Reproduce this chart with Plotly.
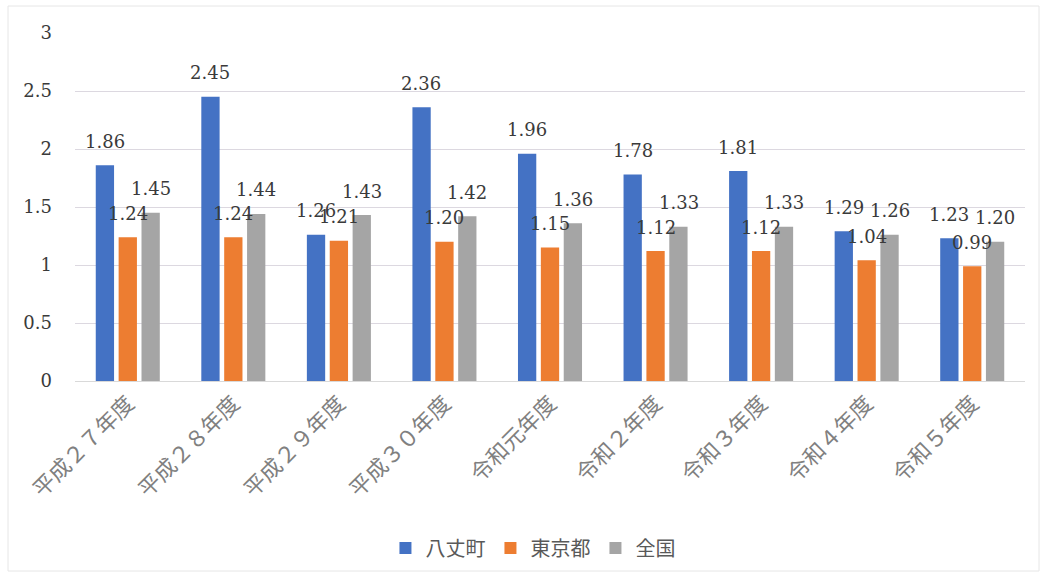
import plotly.graph_objects as go

categories = ["平成２７年度", "平成２８年度", "平成２９年度", "平成３０年度", "令和元年度",
              "令和２年度", "令和３年度", "令和４年度", "令和５年度"]
hachijo = [1.86, 2.45, 1.26, 2.36, 1.96, 1.78, 1.81, 1.29, 1.23]
tokyo = [1.24, 1.24, 1.21, 1.20, 1.15, 1.12, 1.12, 1.04, 0.99]
zenkoku = [1.45, 1.44, 1.43, 1.42, 1.36, 1.33, 1.33, 1.26, 1.20]
series_names = ["八丈町", "東京都", "全国"]
colors = ["#4472C4", "#ED7D31", "#A5A5A5"]

W, H = 1045, 577
L, R, T, B = 75, 20, 33, 196
SERIF = "DejaVu Serif"

fig = go.Figure()
all_series = [hachijo, tokyo, zenkoku]
for name, vals, col in zip(series_names, all_series, colors):
    fig.add_trace(go.Bar(x=categories, y=vals, name=name, marker_color=col,
                         marker_line_width=0))

# data labels
offsets = [-23, 0, 23]
for vals, off in zip(all_series, offsets):
    for c, v in zip(categories, vals):
        fig.add_annotation(x=c, y=v, text=f"{v:.2f}", showarrow=False,
                           xshift=off, yshift=24, yanchor="middle",
                           font=dict(family=SERIF, size=18, color="#3a3a3a"))

pw = W - L - R
ph = H - T - B
fig.add_shape(type="rect", xref="paper", yref="paper",
              x0=(8 - L) / pw, x1=(1039 - L) / pw,
              y0=(H - B - 571) / ph, y1=(H - B - 6) / ph,
              line=dict(color="#e6e6e6", width=1), layer="below")

fig.update_layout(
    width=W, height=H,
    margin=dict(l=L, r=R, t=T, b=B),
    paper_bgcolor="white", plot_bgcolor="white",
    barmode="group", bargap=0.35, bargroupgap=0.2,
    showlegend=True,
    legend=dict(orientation="h", xref="container", yref="container",
                x=0.51, xanchor="center", y=(577 - 548) / 577, yanchor="middle",
                font=dict(family="Noto Sans CJK JP", size=20, color="#595959"),
                itemwidth=30, traceorder="normal"),
    xaxis=dict(tickangle=-45, showgrid=False, showline=True,
               linecolor="#d9d9d9", linewidth=1, ticks="",
               tickfont=dict(family="Noto Sans CJK JP", size=22, color="#808080")),
    yaxis=dict(range=[0, 3], dtick=0.5, showgrid=True, gridcolor="#dcd8e0",
               gridwidth=1, zeroline=False, showline=False, ticks="",
               ticklabelstandoff=22,
               tickfont=dict(family=SERIF, size=18, color="#3a3a3a")),
)

fig.write_html("out.html")
